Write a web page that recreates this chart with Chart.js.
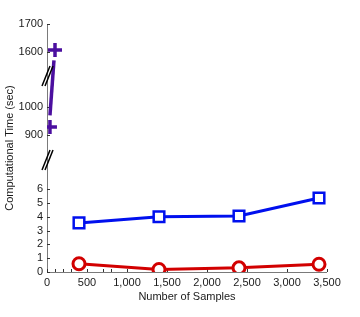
<!DOCTYPE html>
<html>
<head>
<meta charset="utf-8">
<script src="https://cdn.jsdelivr.net/npm/chart.js@4/dist/chart.umd.min.js"></script>
<style>
  html, body { margin: 0; padding: 0; background: #fff; }
  #wrap { width: 360px; height: 317px; }
</style>
</head>
<body>
<div id="wrap"><canvas id="myChart" width="360" height="317"></canvas></div>
<script>
// Datos
const samples = [400, 1400, 2400, 3400];
const timeBlue = [3.55, 4.0, 4.05, 5.35];
const timeRed = [0.6, 0.18, 0.3, 0.56];

// serie morada (marcadores y trazo)
const purpleX = [37, 100];
const purpleY = [929, 1607];
const purpleLineX = [37, 87];
const purpleLineY = [970, 1570];

const yTickValues = [0, 1, 2, 3, 4, 5, 6, 900, 1000, 1600, 1700];
const xTickValues = [0, 500, 1000, 1500, 2000, 2500, 3000, 3500];
const xMinorTicks = [100, 200, 300, 700, 800];

// eje y con cortes: valor real -> valor virtual (px sobre el eje x)
function toV(v) {
  if (v <= 100) return v * 13.83;
  if (v < 1300) return 137 + (v - 900) * 0.28;
  return 220 + (v - 1600) * 0.28;
}

const tickLabels = {};
yTickValues.forEach(v => { tickLabels[toV(v).toFixed(2)] = String(v); });

function pts(xs, ys) {
  return xs.map((x, i) => ({ x: x, y: toV(ys[i]) }));
}

const purple = '#4b0f9f';
const blue = '#0010ee';
const red = '#d20000';

// ejes, marcas internas y cortes
const axisPlugin = {
  id: 'axisPlugin',
  beforeDatasetsDraw(chart) {
    const { ctx, chartArea: a, scales } = chart;
    ctx.save();
    ctx.strokeStyle = '#7a7a7a';
    ctx.lineWidth = 1;
    ctx.beginPath();
    ctx.moveTo(a.left + 0.5, a.top);
    ctx.lineTo(a.left + 0.5, a.bottom + 0.5);
    ctx.lineTo(a.right, a.bottom + 0.5);
    ctx.stroke();
    ctx.strokeStyle = '#333';
    ctx.beginPath();
    yTickValues.forEach(v => {
      const y = Math.round(scales.y.getPixelForValue(toV(v))) + 0.5;
      ctx.moveTo(a.left, y);
      ctx.lineTo(a.left + 3, y);
    });
    xTickValues.concat(xMinorTicks).forEach(v => {
      const x = Math.round(scales.x.getPixelForValue(v)) + 0.5;
      ctx.moveTo(x, a.bottom);
      ctx.lineTo(x, a.bottom - 3);
    });
    ctx.stroke();
    ctx.restore();
  },
  afterDatasetsDraw(chart) {
    const { ctx, chartArea: a, scales } = chart;
    ctx.save();
    ctx.strokeStyle = '#000';
    ctx.lineWidth = 1.5;
    [112, 196].forEach(vy => {
      const cy = scales.y.getPixelForValue(vy);
      const cx = a.left + 0.5;
      [-1.5, 1.5].forEach(off => {
        ctx.beginPath();
        ctx.moveTo(cx - 4 + off, cy + 10);
        ctx.lineTo(cx + 4 + off, cy - 10);
        ctx.stroke();
      });
    });
    ctx.restore();
  }
};

const font = { family: 'Liberation Sans, Arial, sans-serif', size: 11 };

const config = {
  type: 'line',
  data: {
    datasets: [
      {
        data: pts(purpleLineX, purpleLineY),
        borderColor: purple,
        borderWidth: 3.5,
        pointRadius: 0
      },
      {
        data: pts(purpleX, purpleY),
        showLine: false,
        borderColor: purple,
        pointStyle: 'cross',
        pointRadius: 7,
        pointBorderWidth: 3.5,
        pointBorderColor: purple
      },
      {
        data: pts(samples, timeBlue),
        borderColor: blue,
        borderWidth: 3,
        pointStyle: 'rect',
        pointRadius: 7.5,
        pointBorderWidth: 2.5,
        pointBorderColor: blue,
        pointBackgroundColor: '#fff'
      },
      {
        data: pts(samples, timeRed),
        borderColor: red,
        borderWidth: 3,
        pointStyle: 'circle',
        pointRadius: 6,
        pointBorderWidth: 3,
        pointBorderColor: red,
        pointBackgroundColor: '#fff'
      }
    ]
  },
  options: {
    responsive: false,
    animation: false,
    layout: { padding: { top: 24, right: 33, left: 0, bottom: 0 } },
    plugins: { legend: { display: false }, tooltip: { enabled: false } },
    scales: {
      x: {
        type: 'linear',
        min: 0,
        max: 3500,
        grid: { display: false, drawTicks: false },
        border: { display: false },
        afterBuildTicks: s => { s.ticks = xTickValues.map(v => ({ value: v })); },
        afterFit: s => { s.height = 45; },
        ticks: {
          padding: 4,
          color: '#1a1a1a',
          font: font,
          maxRotation: 0,
          callback: v => v.toLocaleString('en-US')
        },
        title: {
          display: true,
          text: 'Number of Samples',
          color: '#1a1a1a',
          font: font,
          padding: { top: 0, bottom: 13 }
        }
      },
      y: {
        type: 'linear',
        min: 0,
        max: 248,
        grid: { display: false, drawTicks: false },
        border: { display: false },
        afterBuildTicks: s => { s.ticks = yTickValues.map(v => ({ value: toV(v) })); },
        afterFit: s => { s.width = 47; },
        ticks: {
          padding: 4,
          color: '#1a1a1a',
          font: font,
          callback: v => tickLabels[v.toFixed(2)] || ''
        },
        title: {
          display: true,
          text: 'Computational Time (sec)',
          color: '#1a1a1a',
          font: font,
          padding: { top: 3, bottom: 0 }
        }
      }
    }
  },
  plugins: [axisPlugin]
};

const myChart = new Chart(document.getElementById('myChart'), config);
</script>
</body>
</html>
